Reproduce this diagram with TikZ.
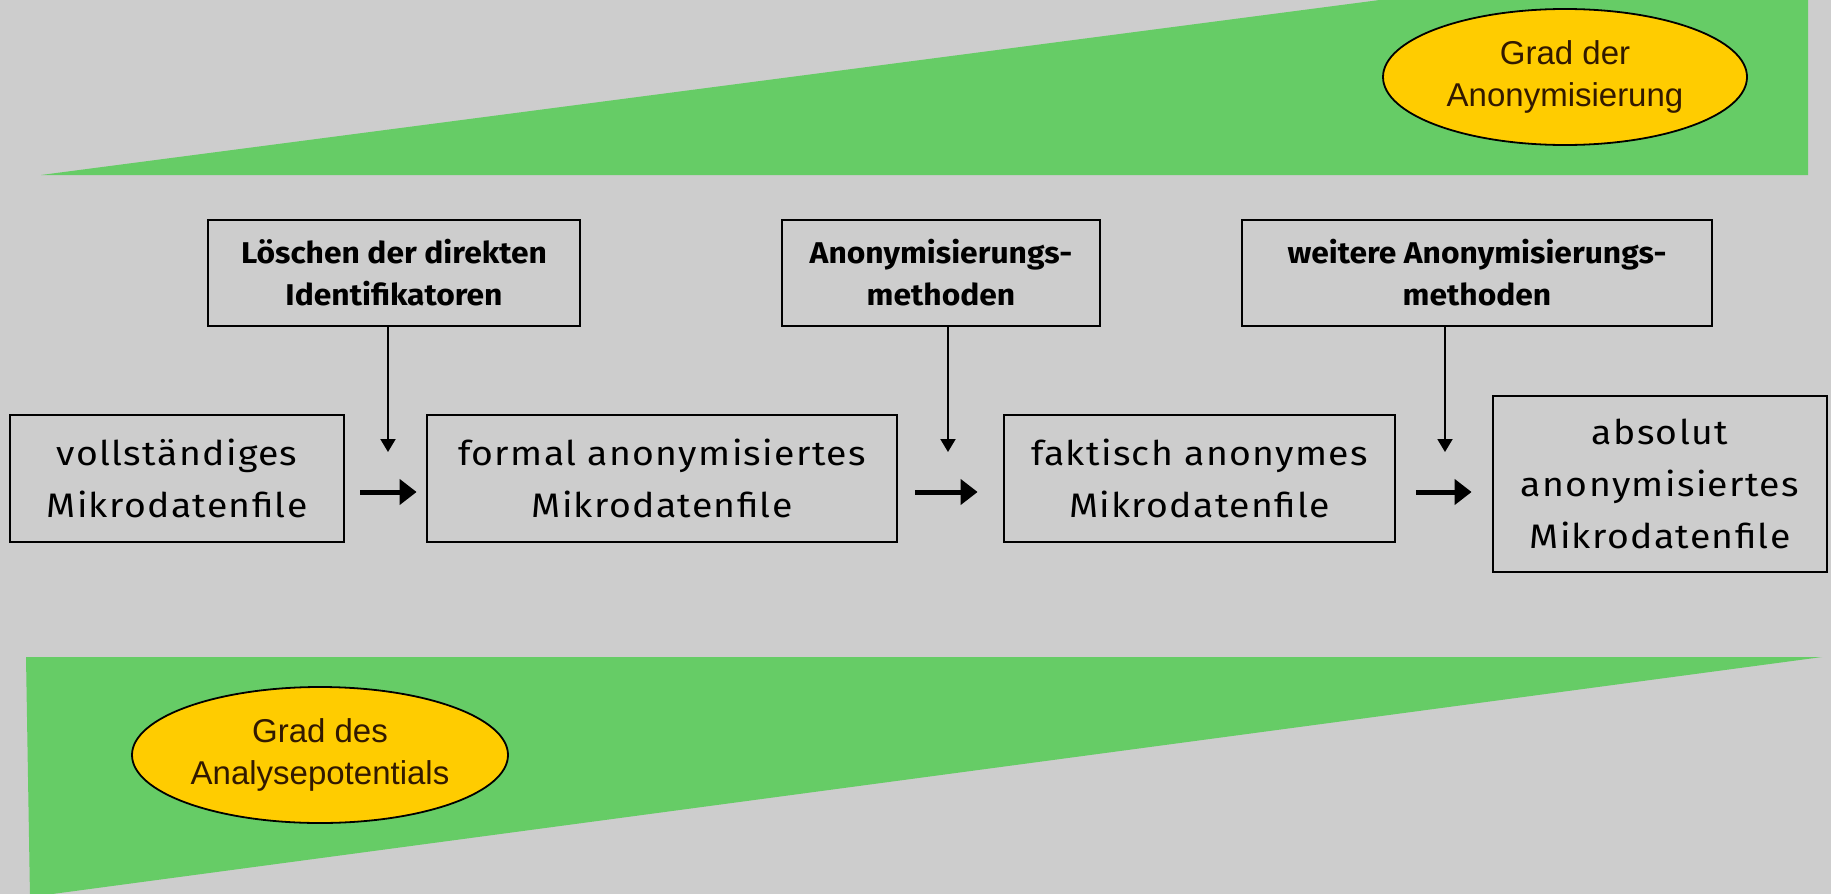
\documentclass[tikz,border=0pt]{standalone}
\usepackage{fontspec}
\setmainfont{Fira Sans}
\newfontfamily\boxfont[FakeStretch=1.1,LetterSpace=4]{Fira Sans}
\newfontfamily\headfont[FakeStretch=1.06]{Fira Sans}
\newfontfamily\ellfont{Liberation Sans}
\usetikzlibrary{arrows.meta,shapes.geometric,calc}
\definecolor{bggray}{RGB}{205,205,205}
\definecolor{wedgegreen}{RGB}{102,204,102}
\definecolor{ovalyellow}{RGB}{255,204,0}
\definecolor{ovaltext}{RGB}{50,25,0}
\tikzset{
  wedge/.style={fill=wedgegreen},
  oval/.style={ellipse, draw=black, line width=0.9pt, fill=ovalyellow, inner sep=0pt,
    minimum height=68pt, text=ovaltext, align=center,
    font=\ellfont\fontsize{16.5}{21}\selectfont},
  stepbox/.style={draw=black, line width=1.35pt, inner sep=0pt, align=center,
    minimum height=53pt, font=\headfont\bfseries\fontsize{15}{21}\selectfont},
  filebox/.style={draw=black, line width=1.4pt, inner sep=0pt, align=center,
    font=\boxfont\fontsize{17}{26}\selectfont},
  harr/.style={line width=2.5pt, -{Triangle[length=8.5pt,width=12.5pt]}},
  varr/.style={line width=1pt, -{Triangle[length=6.5pt,width=7.5pt]}}
}
\begin{document}
\begin{tikzpicture}[x=0.5pt,y=-0.5pt]
\useasboundingbox (0,0) rectangle (1831,894);
\fill[bggray] (0,0) rectangle (1831,894);
\begin{scope}
  \clip (0,0) rectangle (1831,894);
  \fill[wedge] (41,175) -- (1808,175) -- (1808,-56) -- cycle;
  \fill[wedge] (26,657) -- (1822,657) -- (30,897) -- cycle;
\end{scope}

\node[oval, minimum width=182pt] (o1) at (1565,77) {Grad der\\Anonymisierung};
\node[oval, minimum width=188pt] (o2) at (320,755) {Grad des\\Analysepotentials};

\node[stepbox, minimum width=186pt] (sA) at (394,273) {Löschen der direkten\\Identifikatoren};
\node[stepbox, minimum width=159pt] (sB) at (941,273) {Anonymisierungs-\\methoden};
\node[stepbox, minimum width=235pt] (sC) at (1477,273) {weitere Anonymisierungs-\\methoden};

\node[filebox, minimum width=167pt, minimum height=63.5pt] (b1) at (177,478.5) {vollständiges\\Mikrodatenfile};
\node[filebox, minimum width=235pt, minimum height=63.5pt] (b2) at (662,478.5) {formal anonymisiertes\\Mikrodatenfile};
\node[filebox, minimum width=195.5pt, minimum height=63.5pt] (b3) at (1199.5,478.5) {faktisch anonymes\\Mikrodatenfile};
\node[filebox, minimum width=167pt, minimum height=88pt] (b4) at (1660,484) {absolut\\anonymisiertes\\Mikrodatenfile};

\coordinate (tA) at (388,452);
\coordinate (tB) at (948,452);
\coordinate (tC) at (1445,452);
\draw[varr] (sA.south -| tA) -- (tA);
\draw[varr] (sB.south -| tB) -- (tB);
\draw[varr] (sC.south -| tC) -- (tC);

\draw[harr] ($(b1.east)+(15,13.5)$) -- ($(b2.west)+(-9,13.5)$);
\draw[harr] ($(b2.east)+(17,13.5)$) -- ($(b3.west)+(-25,13.5)$);
\draw[harr] ($(b3.east)+(20,13.5)$) -- ($(b4.west)+(-20,8)$);
\end{tikzpicture}
\end{document}
